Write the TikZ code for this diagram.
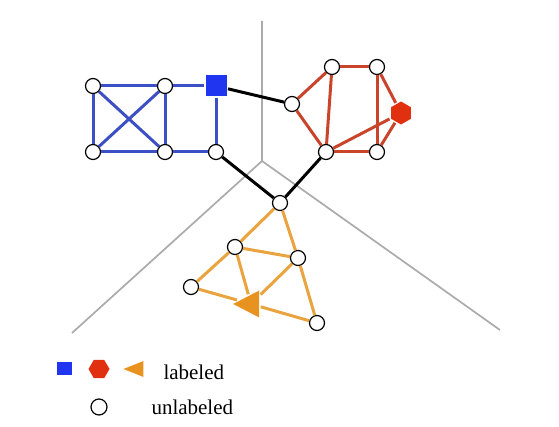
\documentclass[tikz,border=0pt]{standalone}
\usepackage{fontspec}
\setmainfont{Liberation Serif}
\usetikzlibrary{shapes.geometric}
\definecolor{bluedge}{HTML}{3D4FC4}
\definecolor{bluefill}{HTML}{1F35F0}
\definecolor{rededge}{HTML}{C9442B}
\definecolor{redfill}{HTML}{E0300F}
\definecolor{oredge}{HTML}{E9A33F}
\definecolor{orfill}{HTML}{E8931F}
\definecolor{axis}{HTML}{ABABAB}

\begin{document}
\begin{tikzpicture}[x=1pt,y=-1pt,line width=3pt,
  free/.style={circle,draw=black,fill=white,line width=1.2pt,inner sep=0pt,minimum size=15pt},
  sq/.style={rectangle,fill=bluefill,inner sep=0pt,minimum size=21pt},
  hex/.style={regular polygon,regular polygon sides=6,fill=redfill,inner sep=0pt,minimum size=23pt},
  tri/.style={isosceles triangle,isosceles triangle stretches,shape border rotate=180,fill=orfill,inner sep=0pt},
  lbl/.style={anchor=base west,inner sep=0pt,font=\fontsize{21}{25}\selectfont}]

\useasboundingbox (0,0) rectangle (559,427);

% axes
\coordinate (ctr) at (262,161);
\coordinate (top) at (262,21);
\coordinate (ll) at (72,333);
\coordinate (lr) at (500,330);
\draw[axis,line width=1.7pt] (top)--(ctr) (ll)--(ctr)--(lr);

% blue graph
\node[free](b1) at (93,86){};
\node[free](b2) at (165,86){};
\node[sq](b3) at (216,86){};
\node[free](b4) at (93,152){};
\node[free](b5) at (165,152){};
\node[free](b6) at (216,152){};

% red graph
\node[free](r1) at (292,104){};
\node[free](r2) at (332,67){};
\node[free](r3) at (377,67){};
\node[hex,shape border rotate=30](r4) at (401,113){};
\node[free](r5) at (326,152){};
\node[free](r6) at (377,152){};

% orange graph
\node[free](o1) at (280,203){};
\node[free](o2) at (235,247){};
\node[free](o3) at (298,258){};
\node[free](o4) at (191,287){};
\node[tri,minimum height=26pt,minimum width=27pt](o5) at (251,304){};
\node[free](o6) at (317,323){};

\path[bluedge] (b1)edge(b2) (b2)edge(b3) (b4)edge(b5) (b5)edge(b6)
	(b1)edge(b4) (b2)edge(b5) (b3)edge(b6)
	(b1)edge(b5) (b2)edge(b4);

\path[rededge] (r1)edge(r2) (r2)edge(r3) (r3)edge(r4) (r4)edge(r6)
	(r6)edge(r5) (r5)edge(r1) (r2)edge(r5) (r3)edge(r6) (r5)edge(r4);

\path[oredge] (o1)edge(o2) (o2)edge(o4) (o1)edge(o3) (o3)edge(o6)
	(o4)edge(o5) (o5)edge(o6) (o2)edge(o3) (o2)edge(o5) (o3)edge(o5);

\path[black] (b3)edge(r1) (b6)edge(o1) (r5)edge(o1);

% legend
\node[sq,minimum width=15pt,minimum height=13pt](k1) at (64,368){};
\node[hex,minimum size=21pt](k2) at (99,369){};
\node[tri,minimum height=20pt,minimum width=16pt](k3) at (138,369){};
\node[free,minimum size=16pt](k4) at (99,407){};
\node[lbl](t1) at (162,379){labeled};
\node[lbl](t2) at (150,414){unlabeled};

\end{tikzpicture}
\end{document}
